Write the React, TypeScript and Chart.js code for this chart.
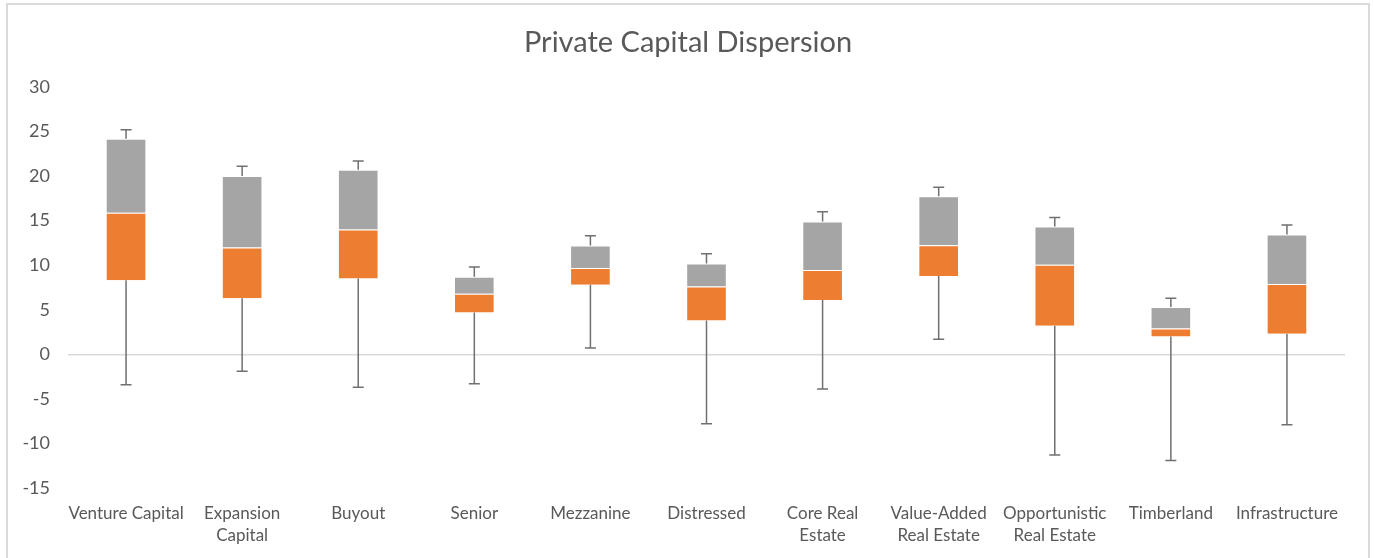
import React, { useEffect, useRef } from "react";
import { Chart, registerables } from "chart.js";

Chart.register(...registerables);

const chartTitle = "Private Capital Dispersion";

const categories: string[][] = [
  ["Venture Capital"],
  ["Expansion", "Capital"],
  ["Buyout"],
  ["Senior"],
  ["Mezzanine"],
  ["Distressed"],
  ["Core Real", "Estate"],
  ["Value-Added", "Real Estate"],
  ["Opportunistic", "Real Estate"],
  ["Timberland"],
  ["Infrastructure"],
];

const minValues = [-3.4, -1.9, -3.7, -3.3, 0.7, -7.8, -3.9, 1.7, -11.3, -11.9, -7.9];
const q1Values = [8.3, 6.3, 8.5, 4.7, 7.8, 3.8, 6.1, 8.8, 3.2, 2.0, 2.3];
const medianValues = [15.9, 12.0, 14.0, 6.8, 9.7, 7.6, 9.45, 12.25, 10.05, 2.9, 7.9];
const q3Values = [24.2, 20.0, 20.7, 8.7, 12.2, 10.2, 14.9, 17.75, 14.35, 5.3, 13.45];
const maxValues = [25.2, 21.1, 21.7, 9.8, 13.3, 11.3, 16.0, 18.75, 15.35, 6.3, 14.5];

const yTicks = { min: -15, max: 30, step: 5 };

const FONT = "Lato, 'Open Sans', sans-serif";
const TEXT = "#595959";

const whiskerPlugin = {
  id: "whiskers",
  afterDatasetsDraw(chart: any) {
    const { ctx, scales } = chart;
    const x = scales.x;
    const y = scales.y;
    ctx.save();
    ctx.strokeStyle = "#707070";
    ctx.lineWidth = 1.5;
    const cap = 5.5;
    categories.forEach((_, i) => {
      const px = x.getPixelForValue(i);
      const yMax = y.getPixelForValue(maxValues[i]);
      const yQ3 = y.getPixelForValue(q3Values[i]);
      const yQ1 = y.getPixelForValue(q1Values[i]);
      const yMin = y.getPixelForValue(minValues[i]);
      ctx.beginPath();
      ctx.moveTo(px, yQ3);
      ctx.lineTo(px, yMax);
      ctx.moveTo(px - cap, yMax);
      ctx.lineTo(px + cap, yMax);
      ctx.moveTo(px, yQ1);
      ctx.lineTo(px, yMin);
      ctx.moveTo(px - cap, yMin);
      ctx.lineTo(px + cap, yMin);
      ctx.stroke();
    });
    ctx.restore();
  },
};

const titlePlugin = {
  id: "centeredTitle",
  afterDraw(chart: any) {
    const { ctx, width } = chart;
    ctx.save();
    ctx.fillStyle = TEXT;
    ctx.font = `29px ${FONT}`;
    ctx.textAlign = "center";
    ctx.textBaseline = "middle";
    ctx.fillText(chartTitle, width / 2 + 1, 43);
    ctx.restore();
  },
};

export default function App() {
  const canvasRef = useRef<HTMLCanvasElement>(null);

  useEffect(() => {
    const canvas = canvasRef.current;
    if (!canvas) return;
    const baseData = q1Values;
    const lowerBox = medianValues.map((m, i) => m - q1Values[i]);
    const upperBox = q3Values.map((q, i) => q - medianValues[i]);

    const chart = new Chart(canvas, {
      type: "bar",
      data: {
        labels: categories,
        datasets: [
          {
            label: "Base",
            data: baseData,
            backgroundColor: "rgba(0,0,0,0)",
            borderWidth: 0,
            barPercentage: 0.35,
            categoryPercentage: 1,
          },
          {
            label: "Q1 to Median",
            data: lowerBox,
            backgroundColor: "#ED7D31",
            borderColor: "rgba(255,255,255,0.35)",
            borderWidth: 1,
            barPercentage: 0.35,
            categoryPercentage: 1,
          },
          {
            label: "Median to Q3",
            data: upperBox,
            backgroundColor: "#A5A5A5",
            borderColor: "rgba(255,255,255,0.35)",
            borderWidth: 1,
            barPercentage: 0.35,
            categoryPercentage: 1,
          },
        ],
      },
      options: {
        responsive: false,
        animation: false,
        layout: { padding: { left: 0, right: 29, top: 87, bottom: 0 } },
        plugins: {
          legend: { display: false },
          tooltip: { enabled: false },
          title: { display: false },
        },
        scales: {
          x: {
            stacked: true,
            grid: { display: false, drawTicks: false },
            border: { display: false },
            ticks: {
              color: TEXT,
              font: { family: FONT, size: 17, lineHeight: 1.3 },
              padding: 14,
              maxRotation: 0,
              autoSkip: false,
            },
            afterFit: (scale: any) => {
              scale.height = 70;
            },
          },
          y: {
            stacked: true,
            min: yTicks.min,
            max: yTicks.max,
            border: { display: false },
            grid: {
              drawTicks: false,
              lineWidth: 1.5,
              color: (c: any) => (c.tick && c.tick.value === 0 ? "#d9d9d9" : "rgba(0,0,0,0)"),
            },
            ticks: {
              stepSize: yTicks.step,
              color: TEXT,
              font: { family: FONT, size: 18 },
              padding: 18,
            },
            afterFit: (scale: any) => {
              scale.width = 68;
            },
          },
        },
      },
      plugins: [whiskerPlugin, titlePlugin],
    });
    return () => chart.destroy();
  }, []);

  return (
    <div style={{ position: "fixed", left: 0, top: 0, width: 1374, height: 558, background: "#fff" }}>
      <div
        style={{
          position: "absolute",
          left: 6,
          top: 3,
          width: 1364,
          height: 600,
          border: "2px solid #d9d9d9",
          boxSizing: "border-box",
        }}
      />
      <canvas
        ref={canvasRef}
        width={1374}
        height={558}
        style={{ position: "absolute", left: 0, top: 0, width: 1374, height: 558 }}
      />
    </div>
  );
}
